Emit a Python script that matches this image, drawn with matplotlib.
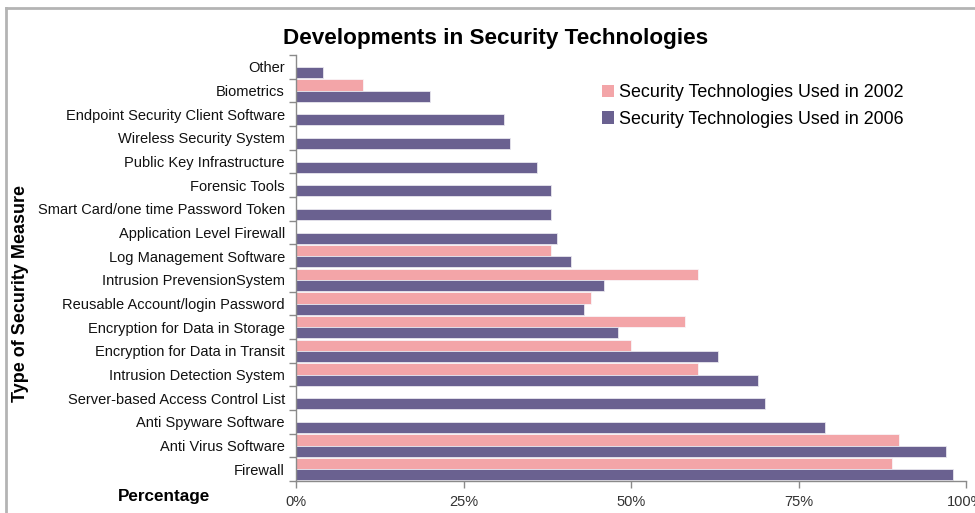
import matplotlib
matplotlib.use("Agg")
import matplotlib.pyplot as plt
import numpy as np
from matplotlib.lines import Line2D
from matplotlib.patches import Patch

plt.rcParams['font.family'] = ['Liberation Sans', 'DejaVu Sans']

categories = [
    "Firewall",
    "Anti Virus Software",
    "Anti Spyware Software",
    "Server-based Access Control List",
    "Intrusion Detection System",
    "Encryption for Data in Transit",
    "Encryption for Data in Storage",
    "Reusable Account/login Password",
    "Intrusion PrevensionSystem",
    "Log Management Software",
    "Application Level Firewall",
    "Smart Card/one time Password Token",
    "Forensic Tools",
    "Public Key Infrastructure",
    "Wireless Security System",
    "Endpoint Security Client Software",
    "Biometrics",
    "Other",
]
used_2002 = [89, 90, 0, 0, 60, 50, 58, 44, 60, 38, 0, 0, 0, 0, 0, 0, 10, 0]
used_2006 = [98, 97, 79, 70, 69, 63, 48, 43, 46, 41, 39, 38, 38, 36, 32, 31, 20, 4]
series_names = ["Security Technologies Used in 2002", "Security Technologies Used in 2006"]
x_ticks = [0, 25, 50, 75, 100]
x_tick_labels = ["0%", "25%", "50%", "75%", "100%"]

pink = "#F3A5A8"
purple = "#6A6190"

W, H = 975, 513
fig = plt.figure(figsize=(W / 100, H / 100), dpi=100)
fig.patch.set_facecolor("white")

ax = fig.add_axes([296 / W, (H - 481) / H, (966 - 296) / W, (481 - 55) / H])

y = np.arange(len(categories))
bh = 0.47
ax.barh(y + bh / 2, used_2002, height=bh, color=pink, edgecolor="#F8F4F8", linewidth=0.6)
ax.barh(y - bh / 2, used_2006, height=bh, color=purple, edgecolor="#E8E6EE", linewidth=0.6)

ax.set_xlim(0, 100)
ax.set_ylim(-0.5, len(categories) - 0.5)

ax.set_xticks(x_ticks)
ax.set_xticklabels(x_tick_labels, fontsize=10.5, color="#333333")
ax.set_yticks(y)
ax.set_yticklabels(categories, fontsize=10.5, color="#111111")
ax.set_yticks(np.arange(-0.5, len(categories), 1.0), minor=True)
ax.tick_params(axis="y", which="major", length=0, pad=8)
ax.tick_params(axis="y", which="minor", length=5, color="#8A8A8A", width=1)
ax.tick_params(axis="x", which="major", length=5, color="#8A8A8A", width=1, pad=5)

for side in ["top", "right"]:
    ax.spines[side].set_visible(False)
for side in ["left", "bottom"]:
    ax.spines[side].set_color("#8A8A8A")
    ax.spines[side].set_linewidth(1)

fig.text(495.5 / W, 1 - 39 / H, "Developments in Security Technologies",
         ha="center", va="center", fontsize=16.2, fontweight="bold")
fig.text(164 / W, 1 - 497 / H, "Percentage", ha="center", va="center",
         fontsize=12.3, fontweight="bold")
fig.text(21 / W, 1 - 294 / H, "Type of Security Measure", ha="center", va="center",
         rotation=90, fontsize=13, fontweight="bold")

handles = [Patch(facecolor=pink, edgecolor="none"), Patch(facecolor=purple, edgecolor="none")]
fig.legend(handles, series_names, loc="upper left", bbox_to_anchor=(602 / W, 1 - 84 / H),
           frameon=False, fontsize=12.9, handlelength=0.67, handleheight=0.67,
           handletextpad=0.3, labelspacing=0.55, borderaxespad=0, borderpad=0)

# outer chart border
fig.add_artist(Line2D([6 / W, 1.0], [1 - 8 / H, 1 - 8 / H], color="#B4B4B4", linewidth=2))
fig.add_artist(Line2D([6 / W, 6 / W], [0, 1 - 8 / H], color="#B4B4B4", linewidth=2))

fig.savefig("out.png", dpi=100)
